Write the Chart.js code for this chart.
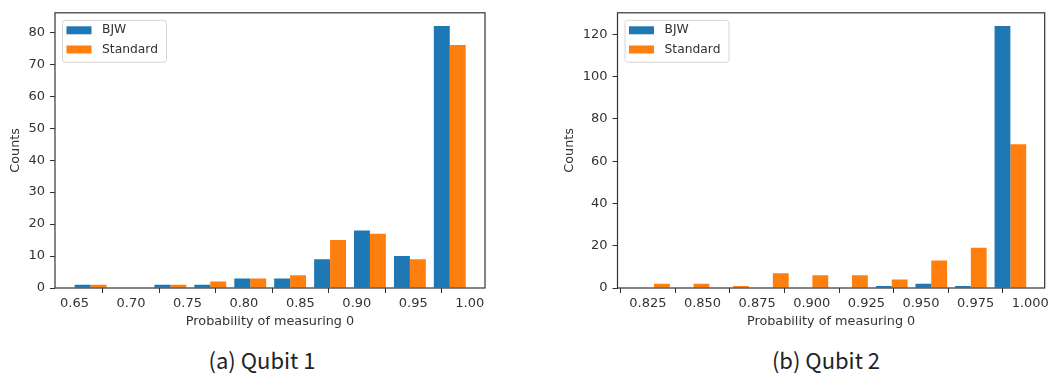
<!DOCTYPE html>
<html><head><meta charset="utf-8">
<script src="https://cdn.jsdelivr.net/npm/chart.js@4/dist/chart.umd.min.js"></script>
<style>
body{margin:0;background:#fff;width:1052px;height:374px;overflow:hidden;position:relative;}
.box{position:absolute;top:0;height:340px;}
.cap{position:absolute;top:346px;line-height:26px;font-family:"Noto Sans CJK KR","Noto Sans",sans-serif;font-size:22px;color:#222;transform:translateX(-50%);white-space:nowrap;}
</style></head><body>
<div class="box" style="left:0;width:500px"><canvas id="c1"></canvas></div>
<div class="box" style="left:560px;width:492px"><canvas id="c2"></canvas></div>
<div class="cap" style="left:262px">(a) Qubit 1</div>
<div class="cap" style="left:826px">(b) Qubit 2</div>
<script>
// ---- data ----
const seriesNames = ['BJW', 'Standard'];
const xTitle = 'Probability of measuring 0';
const yTitle = 'Counts';
const captions = ['(a) Qubit 1', '(b) Qubit 2'];

// Qubit 1 histogram: bin centres and counts
const q1Bins = [0.6642, 0.6995, 0.7349, 0.7702, 0.8056, 0.8409, 0.8763, 0.9116, 0.9470, 0.9823];
const q1BJW = [1, 0, 1, 1, 3, 3, 9, 18, 10, 82];
const q1Standard = [1, 0, 1, 2, 3, 4, 15, 17, 9, 76];
const q1XTicks = [0.65, 0.70, 0.75, 0.80, 0.85, 0.90, 0.95, 1.00];
const q1YTicks = [0, 10, 20, 30, 40, 50, 60, 70, 80];

// Qubit 2 histogram
const q2Bins = [0.8278, 0.8459, 0.8640, 0.8822, 0.9003, 0.9184, 0.9366, 0.9547, 0.9728, 0.9909];
const q2BJW = [0, 0, 0, 0, 0, 0, 1, 2, 1, 124];
const q2Standard = [2, 2, 1, 7, 6, 6, 4, 13, 19, 68];
const q2XTicks = [0.825, 0.850, 0.875, 0.900, 0.925, 0.950, 0.975, 1.000];
const q2YTicks = [0, 20, 40, 60, 80, 100, 120];

const colors = ['#1f77b4', '#ff7f0e'];
const FONT = '"DejaVu Sans", sans-serif';
const TXT = '#333';

const framePlugin = {
  id: 'frame',
  afterDatasetsDraw(chart) {
    const {ctx, chartArea: a} = chart;
    ctx.save();
    ctx.strokeStyle = '#333'; ctx.lineWidth = 1.2;
    ctx.strokeRect(a.left, a.top, a.right - a.left, a.bottom - a.top);
    ctx.restore();
  }
};
const legendPlugin = {
  id: 'legendInside',
  afterDraw(chart) {
    const {ctx, chartArea: a} = chart;
    const x = a.left + 7, y = a.top + 7, w = 104, h = 42;
    ctx.save();
    ctx.beginPath(); ctx.roundRect(x + 0.5, y + 0.5, w, h, 3);
    ctx.fillStyle = 'rgba(255,255,255,0.85)'; ctx.fill();
    ctx.strokeStyle = '#d5d5d5'; ctx.lineWidth = 1; ctx.stroke();
    ctx.font = '12.3px ' + FONT; ctx.textBaseline = 'middle'; ctx.textAlign = 'left';
    chart.data.datasets.forEach((ds, i) => {
      const cy = y + 10.5 + i * 19.2;
      ctx.fillStyle = ds.backgroundColor; ctx.fillRect(x + 4.5, cy - 4, 25, 8);
      ctx.fillStyle = TXT; ctx.fillText(ds.label, x + 40, cy);
    });
    ctx.restore();
  }
};

function makeChart(id, bins, a, b, xTicks, yTicks, xmin, xmax, ymax, dec, yW, padRight, yTitlePad) {
  const xStep = xTicks[1] - xTicks[0];
  const yStep = yTicks[1] - yTicks[0];
  new Chart(document.getElementById(id), {
    type: 'bar',
    data: {
      datasets: [a, b].map((vals, k) => ({
        label: seriesNames[k],
        data: bins.map((x, i) => ({x: x, y: vals[i]})),
        backgroundColor: colors[k],
        borderWidth: 0,
        categoryPercentage: 0.8,
        barPercentage: 1.0
      }))
    },
    options: {
      responsive: true, maintainAspectRatio: false, animation: false,
      layout: {padding: {top: 9, right: padRight, left: 0, bottom: 0}},
      plugins: {legend: {display: false}, tooltip: {enabled: false}},
      scales: {
        x: {
          type: 'linear', min: xmin, max: xmax, offset: false,
          border: {display: false},
          grid: {display: true, drawOnChartArea: false, drawTicks: true, tickLength: 5, color: '#333'},
          ticks: {stepSize: xStep, includeBounds: false, autoSkip: false, maxRotation: 0,
                  padding: 3, color: TXT, font: {family: FONT, size: 13},
                  callback: v => v.toFixed(dec)},
          title: {display: true, text: xTitle, color: TXT, font: {family: FONT, size: 12.8},
                  padding: {top: 0, bottom: 11}},
          afterFit: s => { s.height = 52; }
        },
        y: {
          type: 'linear', min: 0, max: ymax,
          border: {display: false},
          grid: {display: true, drawOnChartArea: false, drawTicks: true, tickLength: 5, color: '#333'},
          ticks: {stepSize: yStep, includeBounds: false, padding: 5, color: TXT,
                  font: {family: FONT, size: 13}},
          title: {display: true, text: yTitle, color: TXT, font: {family: FONT, size: 12.8},
                  padding: {top: yTitlePad, bottom: 0}},
          afterFit: s => { s.width = yW; }
        }
      }
    },
    plugins: [framePlugin, legendPlugin]
  });
}

makeChart('c1', q1Bins, q1BJW, q1Standard, q1XTicks, q1YTicks, 0.6327, 1.0135, 86.1, 2, 55, 15, 8);
makeChart('c2', q2Bins, q2BJW, q2Standard, q2XTicks, q2YTicks, 0.8111, 1.0066, 130.2, 3, 57.5, 3.7, 2.2);
</script>
</body></html>
